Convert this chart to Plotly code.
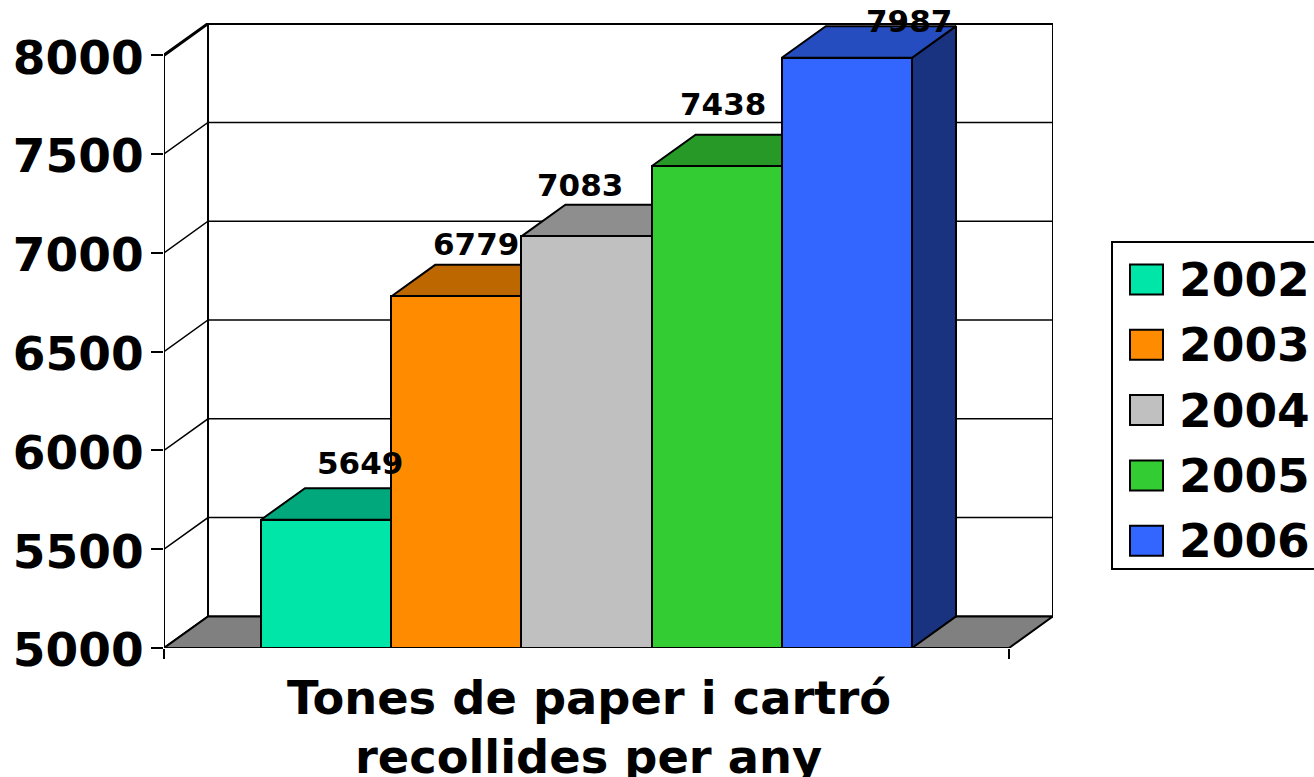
import plotly.graph_objects as go

years = ["2002", "2003", "2004", "2005", "2006"]
values = [5649, 6779, 7083, 7438, 7987]
front_colors = ["#00E6A8", "#FF8C00", "#C0C0C0", "#33CC33", "#3366FF"]
top_colors = ["#00A87B", "#BD6700", "#8E8E8E", "#269926", "#264DBF"]
side_colors = ["#007454", "#804600", "#606060", "#1A661A", "#1A3380"]
y_ticks = [5000, 5500, 6000, 6500, 7000, 7500, 8000]
label_xshift = [34, 20, -7, 6, 62]
label_yshift = [57, 52, 51, 62, 37]
title_lines = ["Tones de paper i cartró", "recollides per any"]

W, H = 1314, 777
L, R, T, B = 164, 1053, 23, 648
FONT = "DejaVu Sans"
X_MIN, X_FRONT_END, X_MAX = -1.245, 5.245, 5.583
Y_MIN, Y_MAX = 5000, 8163
DX, DY = 0.338, 160
px = lambda v: (v - L) / (R - L)
py = lambda v: (B - v) / (B - T)

fig = go.Figure()


def line(xs, ys, width=2, color="black"):
    fig.add_trace(go.Scatter(x=xs, y=ys, mode="lines", showlegend=False, hoverinfo="skip",
                             line=dict(color=color, width=width), cliponaxis=False))


def poly(xs, ys, fill, width=2):
    fig.add_trace(go.Scatter(x=xs + xs[:1], y=ys + ys[:1], mode="lines", fill="toself",
                             fillcolor=fill, showlegend=False, hoverinfo="skip",
                             line=dict(color="black", width=width), cliponaxis=False))


# walls
for v in y_ticks:
    w = 3 if v == y_ticks[-1] else 1.5
    line([X_MIN, X_MIN + DX, X_MAX], [v, v + DY, v + DY], width=w if v != y_ticks[0] else 2)
line([X_MIN + DX, X_MIN + DX], [y_ticks[0] + DY, y_ticks[-1] + DY])
line([X_MAX, X_MAX], [y_ticks[0] + DY, y_ticks[-1] + DY])
line([X_MIN, X_MIN], [y_ticks[0], y_ticks[-1]])
# floor
poly([X_MIN, X_MIN + DX, X_MAX, X_FRONT_END], [Y_MIN, Y_MIN + DY, Y_MIN + DY, Y_MIN], "#808080")
# depth faces of the bars
for i, v in enumerate(values):
    a, b = i - 0.5, i + 0.5
    poly([b, b + DX, b + DX, b], [Y_MIN, Y_MIN + DY, v + DY, v], side_colors[i])
    poly([a, a + DX, b + DX, b], [v, v + DY, v + DY, v], top_colors[i])
# front faces, on an overlaid subplot so they cover the depth faces
for i, (yr, v) in enumerate(zip(years, values)):
    fig.add_trace(go.Bar(x=[i], y=[v - Y_MIN], base=Y_MIN, width=1, name=yr, showlegend=False,
                         marker=dict(color=front_colors[i], line=dict(color="black", width=2)),
                         xaxis="x2", yaxis="y2", cliponaxis=False))

annotations = []
for i, v in enumerate(values):
    annotations.append(dict(x=i, y=v, text=str(v), showarrow=False, xshift=label_xshift[i],
                            yshift=label_yshift[i], xanchor="center", yanchor="middle",
                            font=dict(family=FONT, size=31, color="black", weight="bold")))
annotations.append(dict(x=2, xref="x", y=py(698), yref="paper", text=title_lines[0], showarrow=False,
                        xshift=2, xanchor="center", yanchor="middle",
                        font=dict(family=FONT, size=46.3, color="black", weight="bold")))
annotations.append(dict(x=2, xref="x", y=py(757), yref="paper", text=title_lines[1], showarrow=False,
                        xshift=2, xanchor="center", yanchor="middle",
                        font=dict(family=FONT, size=46.3, color="black", weight="bold")))

shapes = [dict(type="rect", xref="paper", yref="paper", x0=px(1112), x1=px(1340), y0=py(569), y1=py(242),
               line=dict(color="black", width=2), fillcolor="white", layer="above")]
for i, yr in enumerate(years):
    cy = 279.5 + i * 65.3
    shapes.append(dict(type="rect", xref="paper", yref="paper", x0=px(1130), x1=px(1163),
                       y0=py(cy + 15), y1=py(cy - 15), fillcolor=front_colors[i],
                       line=dict(color="black", width=2), layer="above"))
    annotations.append(dict(xref="paper", yref="paper", x=px(1177), y=py(cy), text=yr, showarrow=False,
                            xanchor="left", yanchor="middle",
                            font=dict(family=FONT, size=47, color="black", weight="bold")))

fig.update_layout(
    width=W, height=H, margin=dict(l=L, r=W - R, t=T, b=H - B, pad=0, autoexpand=False),
    paper_bgcolor="white", plot_bgcolor="white", barmode="overlay", bargap=0, showlegend=False,
    shapes=shapes, annotations=annotations,
    xaxis=dict(range=[X_MIN, X_MAX], showgrid=False, zeroline=False, showline=False, ticks="outside",
               tickmode="array", tickvals=[X_MIN, X_FRONT_END], ticktext=["", ""], ticklen=10,
               tickwidth=2, tickcolor="black", showticklabels=False),
    yaxis=dict(range=[Y_MIN, Y_MAX], showgrid=False, zeroline=False, showline=False, ticks="outside",
               tickmode="array", tickvals=y_ticks, ticktext=[str(v) for v in y_ticks], ticklen=12,
               tickwidth=2, tickcolor="black", ticklabelstandoff=-2, ticklabelshift=2,
               tickfont=dict(family=FONT, size=47, color="black", weight="bold")),
    xaxis2=dict(range=[X_MIN, X_MAX], overlaying="x", visible=False),
    yaxis2=dict(range=[Y_MIN, Y_MAX], overlaying="y", visible=False),
)

fig.write_html("out.html", config={"displayModeBar": False},
               post_script="document.body.style.margin='0';document.body.style.overflow='hidden';")
